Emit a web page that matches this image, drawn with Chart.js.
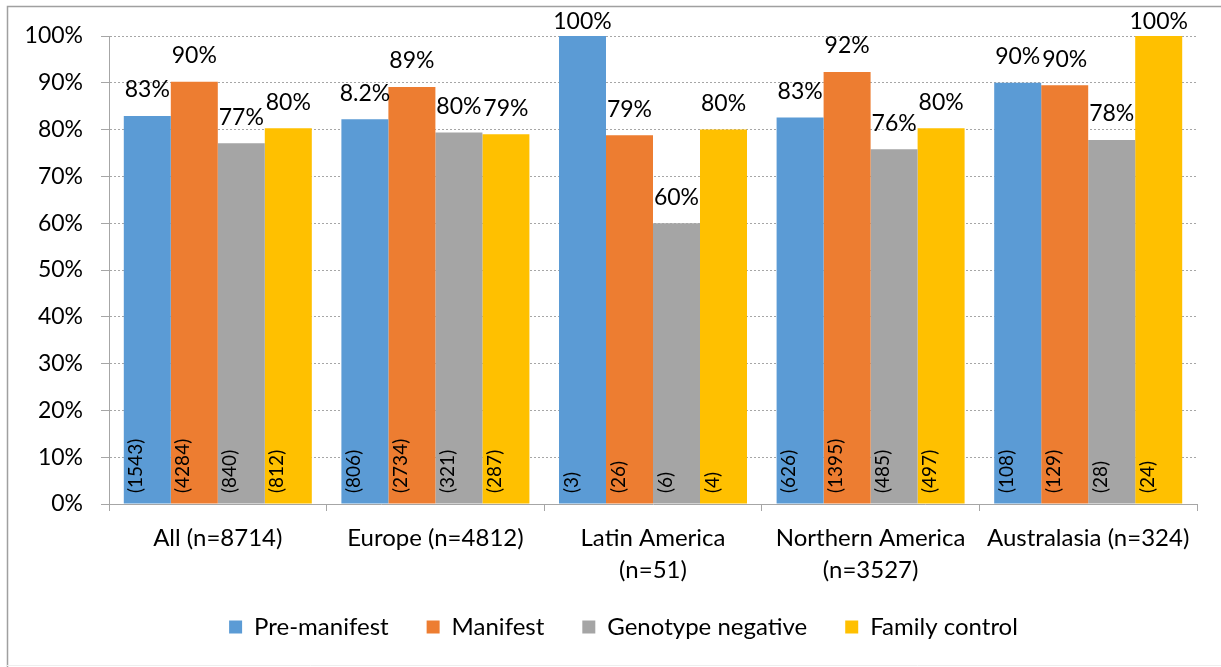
<!DOCTYPE html>
<html lang="en">
<head>
<meta charset="utf-8">
<title>Pre-manifest / Manifest / Genotype negative / Family control</title>
<script src="https://cdn.jsdelivr.net/npm/chart.js@4.4.1/dist/chart.umd.min.js"></script>
<style>
  html, body { margin: 0; padding: 0; background: #fff; }
  canvas { display: block; }
</style>
</head>
<body>
<canvas id="chBarras" width="1221" height="667"></canvas>
<script>
// Regiones (eje x) y grupos (series)
const REGIONES = [
  "All (n=8714)",
  "Europe (n=4812)",
  ["Latin America", "(n=51)"],
  ["Northern America", "(n=3527)"],
  "Australasia (n=324)",
];
const GRUPOS = ["Pre-manifest", "Manifest", "Genotype negative", "Family control"];

// Porcentajes por grupo, en el orden de REGIONES
const PRE_MANIFEST = [82.9, 82.2, 100, 82.6, 90.0];
const MANIFEST = [90.2, 89.1, 78.8, 92.3, 89.5];
const GENOTIPO_NEG = [77.1, 79.4, 60.0, 75.8, 77.8];
const CONTROL_FAM = [80.3, 79.0, 80.0, 80.3, 100];

// Texto de la etiqueta que va encima de cada barra
const ETIQ_PRE = ["83%", "8.2%", "100%", "83%", "90%"];
const ETIQ_MAN = ["90%", "89%", "79%", "92%", "90%"];
const ETIQ_GEN = ["77%", "80%", "60%", "76%", "78%"];
const ETIQ_FAM = ["80%", "79%", "80%", "80%", "100%"];

// Tamano de muestra (n) que va dentro de cada barra
const N_PRE = [1543, 806, 3, 626, 108];
const N_MAN = [4284, 2734, 26, 1395, 129];
const N_GEN = [840, 321, 6, 485, 28];
const N_FAM = [812, 287, 4, 497, 24];

const COLORES = ["#5B9BD5", "#ED7D31", "#A5A5A5", "#FFC000"];
const FUENTE = "Lato, 'Open Sans', sans-serif";
const GRIS = "#a6a6a6";

/** Fondo blanco y marco del grafico (solo se ven arriba y a la izquierda). */
const marco = {
  id: "marco",
  beforeDraw(chart) {
    const { ctx, width, height } = chart;
    ctx.save();
    ctx.fillStyle = "#fff";
    ctx.fillRect(0, 0, width, height);
    ctx.strokeStyle = "#a0a0a0";
    ctx.lineWidth = 1.5;
    ctx.beginPath();
    ctx.moveTo(7.5, height);
    ctx.lineTo(7.5, 6.5);
    ctx.lineTo(width, 6.5);
    ctx.stroke();
    ctx.strokeStyle = "#eeeeee";
    ctx.lineWidth = 1;
    ctx.beginPath();
    ctx.moveTo(7, height - 1.5);
    ctx.lineTo(width, height - 1.5);
    ctx.stroke();
    ctx.restore();
  },
};

/**
 * La leyenda va centrada respecto al marco completo (no al area de la
 * grafica) y un poco mas arriba de donde la deja el layout, porque el
 * padding grande entre items tambien la hace mas alta.
 */
const leyendaCentrada = {
  id: "leyendaCentrada",
  afterLayout(chart) {
    const ley = chart.legend;
    if (!ley) return;
    ley.left += 25;
    ley.right += 25;
    ley.top -= 17;
    ley.bottom -= 17;
  },
};

/** Porcentaje encima de cada barra y n rotado dentro, junto a la base. */
const etiquetas = {
  id: "etiquetas",
  afterDatasetsDraw(chart) {
    const { ctx, chartArea } = chart;
    ctx.save();
    ctx.fillStyle = "#000";
    chart.data.datasets.forEach((ds, i) => {
      chart.getDatasetMeta(i).data.forEach((barra, j) => {
        ctx.font = `23px ${FUENTE}`;
        ctx.textAlign = "center";
        ctx.textBaseline = "middle";
        const y = Math.max(barra.y - 26, chartArea.top - 14);
        ctx.fillText(ds.etiquetas[j], barra.x, y);

        ctx.save();
        ctx.translate(barra.x - 11, chartArea.bottom - 11);
        ctx.rotate(-Math.PI / 2);
        ctx.font = `19px ${FUENTE}`;
        ctx.textAlign = "left";
        ctx.fillText(`(${ds.n[j]})`, 0, 0);
        ctx.restore();
      });
    });
    ctx.restore();
  },
};

const serie = (k, valores, etiq, n) => ({
  label: GRUPOS[k],
  data: valores,
  etiquetas: etiq,
  n: n,
  backgroundColor: COLORES[k],
  borderWidth: 0,
  categoryPercentage: 0.864,
  barPercentage: 1.0,
});

new Chart(document.getElementById("chBarras"), {
  type: "bar",
  data: {
    labels: REGIONES,
    datasets: [
      serie(0, PRE_MANIFEST, ETIQ_PRE, N_PRE),
      serie(1, MANIFEST, ETIQ_MAN, N_MAN),
      serie(2, GENOTIPO_NEG, ETIQ_GEN, N_GEN),
      serie(3, CONTROL_FAM, ETIQ_FAM, N_FAM),
    ],
  },
  options: {
    responsive: false,
    animation: false,
    layout: { padding: { left: 0, right: 24, top: 36, bottom: 1 } },
    plugins: {
      tooltip: { enabled: false },
      legend: {
        position: "bottom",
        labels: {
          boxWidth: 13,
          boxHeight: 13,
          padding: 38,
          color: "#000",
          font: { family: FUENTE, size: 24 },
        },
      },
    },
    scales: {
      x: {
        grid: { drawOnChartArea: false, offset: true, tickLength: 7, color: GRIS },
        border: { color: GRIS },
        ticks: {
          color: "#000",
          autoSkip: false,
          maxRotation: 0,
          padding: 11,
          font: { family: FUENTE, size: 24, lineHeight: 1.333 },
        },
        afterFit(scale) { scale.height = 90; },
      },
      y: {
        min: 0,
        max: 100,
        grid: { color: GRIS, tickColor: GRIS, tickLength: 8 },
        border: { color: GRIS, dash: [2, 2] },
        ticks: {
          stepSize: 10,
          color: "#000",
          padding: 18,
          font: { family: FUENTE, size: 23 },
          callback: v => v + "%",
        },
        afterFit(scale) { scale.width = 109; },
      },
    },
  },
  plugins: [marco, leyendaCentrada, etiquetas],
});
</script>
</body>
</html>
